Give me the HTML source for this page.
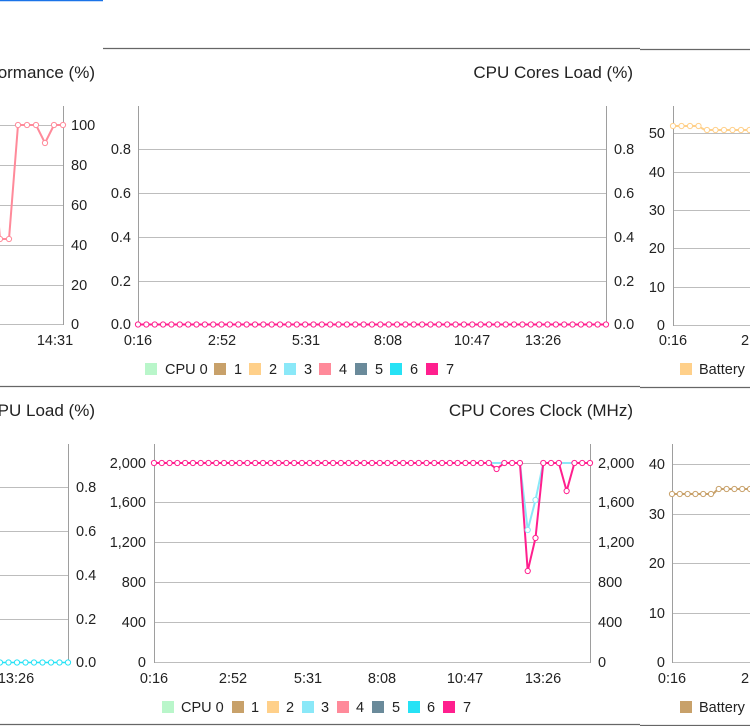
<!DOCTYPE html>
<html><head><meta charset="utf-8"><style>
html,body{margin:0;padding:0;background:#fff;width:750px;height:726px;overflow:hidden}
svg{display:block;font-family:"Liberation Sans",Roboto,sans-serif}
.t{font-size:14.5px;fill:#222}
.h{font-size:17px;fill:#222}
.g{stroke:#bdbdbd;stroke-width:1}
.a{stroke:#9e9e9e;stroke-width:1}
</style></head><body>
<svg id="s" width="750" height="726" viewBox="0 0 750 726">
<line x1="0" y1="0.5" x2="103" y2="0.5" stroke="#1a73e8" stroke-width="1.5"/>
<line x1="103" y1="48.5" x2="640" y2="48.5" stroke="#666" stroke-width="1.2"/>
<line x1="640" y1="49.5" x2="750" y2="49.5" stroke="#666" stroke-width="1.2"/>
<line x1="0" y1="386.5" x2="640" y2="386.5" stroke="#666" stroke-width="1.2"/>
<line x1="640" y1="387.5" x2="750" y2="387.5" stroke="#666" stroke-width="1.2"/>
<line x1="0" y1="724.5" x2="640" y2="724.5" stroke="#666" stroke-width="1.2"/>
<line x1="640" y1="725.5" x2="750" y2="725.5" stroke="#666" stroke-width="1.2"/>

<text class="h" x="95" y="78" text-anchor="end">ormance (%)</text>
<text class="h" x="633" y="78" text-anchor="end">CPU Cores Load (%)</text>
<text class="h" x="95" y="416" text-anchor="end">PU Load (%)</text>
<text class="h" x="633" y="416" text-anchor="end">CPU Cores Clock (MHz)</text>

<!-- top-left -->
<g class="g"><line x1="0" y1="125.5" x2="63" y2="125.5"/><line x1="0" y1="165.5" x2="63" y2="165.5"/><line x1="0" y1="205.5" x2="63" y2="205.5"/><line x1="0" y1="245.5" x2="63" y2="245.5"/><line x1="0" y1="285.5" x2="63" y2="285.5"/><line x1="0" y1="324.5" x2="63" y2="324.5"/></g>
<line class="a" x1="63.5" y1="106" x2="63.5" y2="325"/>
<g class="t"><text x="71" y="130">100</text><text x="71" y="170">80</text><text x="71" y="210">60</text><text x="71" y="250">40</text><text x="71" y="290">20</text><text x="71" y="329">0</text><text x="55" y="345" text-anchor="middle">14:31</text></g>
<polyline points="-2,215 0,239 9,239 18,125 27,125 36,125 45,143 54,125 63,125" fill="none" stroke="#ff8a9a" stroke-width="2"/>
<g id="c1"></g>

<!-- top-middle -->
<g class="g"><line x1="138" y1="149.5" x2="606" y2="149.5"/><line x1="138" y1="193.5" x2="606" y2="193.5"/><line x1="138" y1="237.5" x2="606" y2="237.5"/><line x1="138" y1="281.5" x2="606" y2="281.5"/></g>
<line class="a" x1="138.5" y1="106" x2="138.5" y2="325"/>
<line class="a" x1="606.5" y1="106" x2="606.5" y2="325"/>
<g class="t" text-anchor="end"><text x="131" y="154">0.8</text><text x="131" y="198">0.6</text><text x="131" y="242">0.4</text><text x="131" y="286">0.2</text><text x="131" y="329">0.0</text></g>
<g class="t"><text x="614" y="154">0.8</text><text x="614" y="198">0.6</text><text x="614" y="242">0.4</text><text x="614" y="286">0.2</text><text x="614" y="329">0.0</text></g>
<g class="t" text-anchor="middle"><text x="138" y="345">0:16</text><text x="222" y="345">2:52</text><text x="306" y="345">5:31</text><text x="388" y="345">8:08</text><text x="472" y="345">10:47</text><text x="543" y="345">13:26</text></g>
<line x1="138" y1="324.5" x2="606" y2="324.5" stroke="#ff1f8e" stroke-width="2"/>
<g id="c2"></g>

<!-- top-right -->
<g class="g"><line x1="673" y1="133.5" x2="750" y2="133.5"/><line x1="673" y1="172.5" x2="750" y2="172.5"/><line x1="673" y1="210.5" x2="750" y2="210.5"/><line x1="673" y1="248.5" x2="750" y2="248.5"/><line x1="673" y1="287.5" x2="750" y2="287.5"/><line x1="673" y1="325.5" x2="750" y2="325.5"/></g>
<line class="a" x1="673.5" y1="106" x2="673.5" y2="326"/>
<g class="t" text-anchor="end"><text x="665" y="138">50</text><text x="665" y="177">40</text><text x="665" y="215">30</text><text x="665" y="253">20</text><text x="665" y="292">10</text><text x="665" y="330">0</text></g>
<g class="t"><text x="673" y="345" text-anchor="middle">0:16</text><text x="741" y="345">2</text></g>
<polyline points="673,126 698,126 705,130 750,130" fill="none" stroke="#ffd08a" stroke-width="2"/>
<g id="c3"></g>

<!-- bottom-left -->
<g class="g"><line x1="0" y1="487.5" x2="68" y2="487.5"/><line x1="0" y1="531.5" x2="68" y2="531.5"/><line x1="0" y1="575.5" x2="68" y2="575.5"/><line x1="0" y1="619.5" x2="68" y2="619.5"/></g>
<line class="a" x1="68.5" y1="444" x2="68.5" y2="663"/>
<g class="t"><text x="76" y="492">0.8</text><text x="76" y="536">0.6</text><text x="76" y="580">0.4</text><text x="76" y="624">0.2</text><text x="76" y="667">0.0</text><text x="16" y="683" text-anchor="middle">13:26</text></g>
<line x1="0" y1="662.5" x2="68" y2="662.5" stroke="#26e2f5" stroke-width="1.5"/>
<g id="c4"></g>

<!-- bottom-middle -->
<g class="g"><line x1="154" y1="463.5" x2="590" y2="463.5"/><line x1="154" y1="502.5" x2="590" y2="502.5"/><line x1="154" y1="542.5" x2="590" y2="542.5"/><line x1="154" y1="582.5" x2="590" y2="582.5"/><line x1="154" y1="622.5" x2="590" y2="622.5"/><line x1="154" y1="662.5" x2="590" y2="662.5"/></g>
<line class="a" x1="154.5" y1="444" x2="154.5" y2="663"/>
<line class="a" x1="590.5" y1="444" x2="590.5" y2="663"/>
<g class="t" text-anchor="end"><text x="146" y="468">2,000</text><text x="146" y="507">1,600</text><text x="146" y="547">1,200</text><text x="146" y="587">800</text><text x="146" y="627">400</text><text x="146" y="667">0</text></g>
<g class="t"><text x="598" y="468">2,000</text><text x="598" y="507">1,600</text><text x="598" y="547">1,200</text><text x="598" y="587">800</text><text x="598" y="627">400</text><text x="598" y="667">0</text></g>
<g class="t" text-anchor="middle"><text x="154" y="683">0:16</text><text x="233" y="683">2:52</text><text x="308" y="683">5:31</text><text x="382" y="683">8:08</text><text x="465" y="683">10:47</text><text x="543" y="683">13:26</text></g>
<polyline id="cy" fill="none" stroke="#8ae8f8" stroke-width="2"/>
<polyline id="pk" fill="none" stroke="#ff1f8e" stroke-width="2"/>
<g id="c5"></g>

<!-- bottom-right -->
<g class="g"><line x1="672" y1="464.5" x2="750" y2="464.5"/><line x1="672" y1="514.5" x2="750" y2="514.5"/><line x1="672" y1="563.5" x2="750" y2="563.5"/><line x1="672" y1="613.5" x2="750" y2="613.5"/><line x1="672" y1="662.5" x2="750" y2="662.5"/></g>
<line class="a" x1="672.5" y1="444" x2="672.5" y2="663"/>
<g class="t" text-anchor="end"><text x="665" y="469">40</text><text x="665" y="519">30</text><text x="665" y="568">20</text><text x="665" y="618">10</text><text x="665" y="667">0</text></g>
<g class="t"><text x="672" y="683" text-anchor="middle">0:16</text><text x="741" y="683">2</text></g>
<polyline points="672,494 713,494 718,489 750,489" fill="none" stroke="#c8a16a" stroke-width="2"/>
<g id="c6"></g>

<!-- legends -->
<g class="t">
<rect x="145" y="363" width="12" height="12" fill="#b9f6ca"/><text x="165" y="374">CPU 0</text>
<rect x="214" y="363" width="12" height="12" fill="#c8a16a"/><text x="234" y="374">1</text>
<rect x="249" y="363" width="12" height="12" fill="#ffd08a"/><text x="269" y="374">2</text>
<rect x="284" y="363" width="12" height="12" fill="#8ae8f8"/><text x="304" y="374">3</text>
<rect x="319" y="363" width="12" height="12" fill="#ff8a9a"/><text x="339" y="374">4</text>
<rect x="355" y="363" width="12" height="12" fill="#6a8a9a"/><text x="375" y="374">5</text>
<rect x="390" y="363" width="12" height="12" fill="#26e2f5"/><text x="410" y="374">6</text>
<rect x="426" y="363" width="12" height="12" fill="#ff1f8e"/><text x="446" y="374">7</text>
<rect x="680" y="363" width="12" height="12" fill="#ffd08a"/><text x="699" y="374">Battery</text>

<rect x="162" y="701" width="12" height="12" fill="#b9f6ca"/><text x="181" y="712">CPU 0</text>
<rect x="232" y="701" width="12" height="12" fill="#c8a16a"/><text x="251" y="712">1</text>
<rect x="267" y="701" width="12" height="12" fill="#ffd08a"/><text x="286" y="712">2</text>
<rect x="302" y="701" width="12" height="12" fill="#8ae8f8"/><text x="321" y="712">3</text>
<rect x="337" y="701" width="12" height="12" fill="#ff8a9a"/><text x="356" y="712">4</text>
<rect x="372" y="701" width="12" height="12" fill="#6a8a9a"/><text x="392" y="712">5</text>
<rect x="408" y="701" width="12" height="12" fill="#26e2f5"/><text x="427" y="712">6</text>
<rect x="443" y="701" width="12" height="12" fill="#ff1f8e"/><text x="463" y="712">7</text>
<rect x="680" y="701" width="12" height="12" fill="#c8a16a"/><text x="699" y="712">Battery</text>
</g>
</svg>
<script>
var NS="http://www.w3.org/2000/svg";
function dots(id,pts,col){var g=document.getElementById(id);pts.forEach(function(p){var c=document.createElementNS(NS,"circle");c.setAttribute("cx",p[0]);c.setAttribute("cy",p[1]);c.setAttribute("r",2.6);c.setAttribute("fill","#fff");c.setAttribute("stroke",col);c.setAttribute("stroke-width",1);g.appendChild(c);});}
dots("c1",[[0,239],[9,239],[18,125],[27,125],[36,125],[45,143],[54,125],[63,125]],"#ff8a9a");
var p=[];for(var i=0;i<=56;i++)p.push([138+i*468/56,324.5]);dots("c2",p,"#ff1f8e");
p=[];for(var i=0;i<=9;i++){var x=673+i*8.5;p.push([x,x<700?126:130]);}dots("c3",p,"#ffd08a");
p=[];for(var i=0;i<=8;i++)p.push([i*8.5,662.5]);dots("c4",p,"#26e2f5");
var pk=[],cy=[];for(var i=0;i<=56;i++){var x=154+i*436/56,y=463,yc=463;
if(i==44)y=469;if(i==48){y=571;yc=530}if(i==49){y=538;yc=500}if(i==53)y=491;pk.push([x,y]);cy.push([x,yc]);}
document.getElementById("pk").setAttribute("points",pk.map(function(a){return a.join(",")}).join(" "));
document.getElementById("cy").setAttribute("points",cy.map(function(a){return a.join(",")}).join(" "));
dots("c5",[[cy[48][0],530],[cy[49][0],500]],"#8ae8f8");dots("c5",pk,"#ff1f8e");
p=[];for(var i=0;i<=10;i++){var x=672+i*7.8;p.push([x,x<714?494:489]);}dots("c6",p,"#c8a16a");
</script>
</body></html>
